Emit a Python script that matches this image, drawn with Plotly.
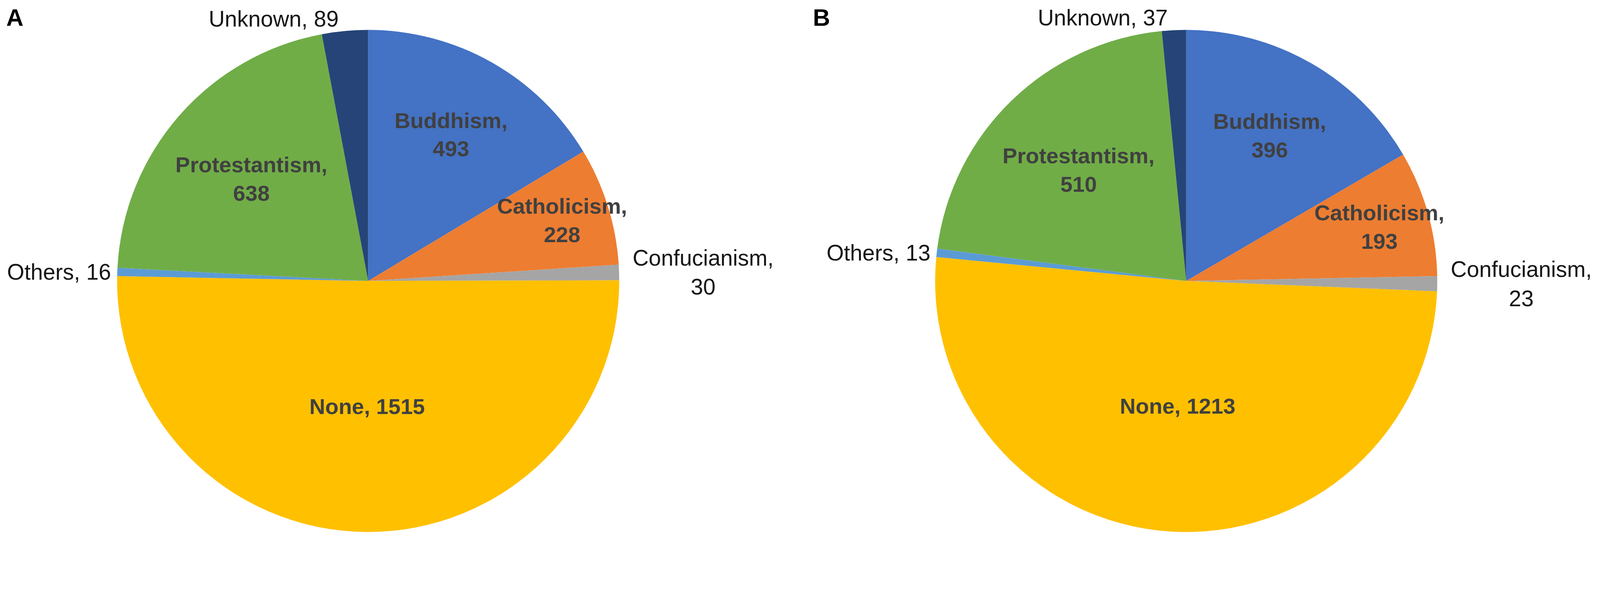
import plotly.graph_objects as go

categories = ["Buddhism", "Catholicism", "Confucianism", "None", "Others", "Protestantism", "Unknown"]
values_a = [493, 228, 30, 1515, 16, 638, 89]
values_b = [396, 193, 23, 1213, 13, 510, 37]
panel_labels = ["A", "B"]

colors = ["#4472C4", "#ED7D31", "#A5A5A5", "#FFC000", "#5B9BD5", "#70AD47", "#264478"]
positions = ["inside", "inside", "outside", "inside", "outside", "inside", "outside"]
two_line = [True, True, True, False, False, True, False]

FONT = "Liberation Sans, Arial, sans-serif"


def make_text(vals):
    return [f"{c},<br>{v}" if tl else f"{c}, {v}" for c, v, tl in zip(categories, vals, two_line)]


# page is rendered at ~1.114 device scale (4562 px photo of a 4096 CSS px viewport)
W, H = 4080, 1359
fig = go.Figure()

domains_x = [[0.0698, 0.3876], [0.5852, 0.9038]]
ydom = [0.0, 0.955]

for vals, dx in zip([values_a, values_b], domains_x):
    fig.add_trace(go.Pie(
        labels=categories,
        values=vals,
        text=make_text(vals),
        textinfo="text",
        textposition=positions,
        insidetextorientation="horizontal",
        sort=False,
        direction="clockwise",
        rotation=0,
        marker=dict(colors=colors, line=dict(width=0)),
        insidetextfont=dict(family=FONT, size=56, color="#404040", weight="bold"),
        outsidetextfont=dict(family=FONT, size=57, color="#151515"),
        domain=dict(x=dx, y=ydom),
        showlegend=False,
        hoverinfo="label+value",
    ))

for lab, xp in zip(panel_labels, [0.0, 0.5085]):
    fig.add_annotation(
        text=f"<b>{lab}</b>", x=xp, y=1.0, xref="paper", yref="paper",
        xanchor="left", yanchor="top", showarrow=False, yshift=7,
        font=dict(family=FONT, size=61, color="#000000"),
    )

fig.update_layout(
    width=W, height=H,
    margin=dict(l=0, r=0, t=0, b=0),
    paper_bgcolor="white",
    plot_bgcolor="white",
    uniformtext=dict(minsize=56, mode="show"),
)

fig.write_html("out.html")
